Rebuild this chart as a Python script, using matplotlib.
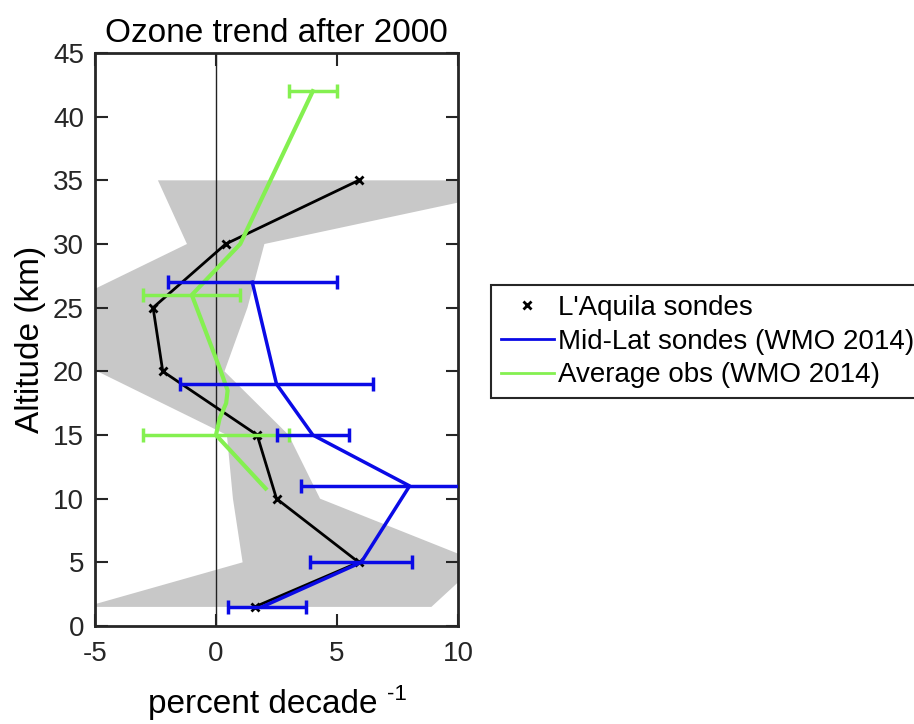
import matplotlib
matplotlib.use("Agg")
import matplotlib.pyplot as plt
from matplotlib.lines import Line2D
import numpy as np

plt.rcParams['font.family'] = ['Liberation Sans', 'DejaVu Sans']
plt.rcParams['axes.unicode_minus'] = False

# L'Aquila sondes: trend and the grey uncertainty band
alt_laq = [1.5, 5, 10, 15, 20, 25, 30, 35]
trend_laq = [1.6, 5.9, 2.5, 1.7, -2.2, -2.6, 0.4, 5.9]
band_lo = [-5.4, 1.1, 0.7, 0.45, -4.9, -6.6, -1.2, -2.4]
band_hi = [8.9, 10.9, 4.3, 3.0, 0.35, 1.3, 2.0, 14.3]

# Mid-Lat sondes (WMO 2014)
alt_ml = [1.5, 5, 11, 15, 19, 27]
trend_ml = [1.9, 6.0, 8.0, 4.0, 2.5, 1.5]
ml_lo = [0.5, 3.9, 3.5, 2.5, -1.5, -2.0]
ml_hi = [3.7, 8.1, 12.5, 5.5, 6.5, 5.0]

# Average obs (WMO 2014)
alt_avg = [10.8, 15, 16.3, 17.5, 18.5, 20, 22, 24, 26, 30, 42]
trend_avg = [2.05, 0.0, 0.15, 0.42, 0.48, 0.2, -0.2, -0.6, -1.0, 1.0, 4.0]
avg_err_alt = [15, 26, 42]
avg_err_val = [0.0, -1.0, 4.0]
avg_err = [3.0, 2.0, 1.0]

green = '#84f050'
blue = '#0a0ae6'

W, H = 914, 724
fig = plt.figure(figsize=(W / 100, H / 100), dpi=100)
ax = fig.add_axes([95 / W, 1 - 626 / H, 363 / W, 573 / H])

# grey band: go up along the low side, back down along the high side
ax.fill(band_lo + band_hi[::-1], alt_laq + alt_laq[::-1],
        color='#c8c8c8', edgecolor='none', zorder=1)
ax.axvline(0, color='#222222', lw=1.0, zorder=2)

ax.plot(trend_laq, alt_laq, color='k', lw=2.0, marker='x',
        ms=6, mew=2, zorder=3)

ax.plot(trend_avg, alt_avg, color=green, lw=3, zorder=4)
ax.errorbar(avg_err_val, avg_err_alt, xerr=avg_err, fmt='none',
            ecolor=green, elinewidth=2.5, capsize=5, capthick=2.5, zorder=4)

ml_err = [np.array(trend_ml) - np.array(ml_lo), np.array(ml_hi) - np.array(trend_ml)]
ax.errorbar(trend_ml, alt_ml, xerr=ml_err, color=blue, lw=2.5,
            elinewidth=2.5, capsize=5, capthick=2.5, zorder=5)

ax.set_xlim(-5, 10)
ax.set_ylim(0, 45)
ax.set_xticks([-5, 0, 5, 10])
ax.set_yticks(range(0, 46, 5))
ax.tick_params(direction='in', length=9, width=1.5, labelsize=20,
               top=True, right=True, colors='#262626', pad=11)
ax.tick_params(axis='y', pad=8)
for s in ax.spines.values():
    s.set_linewidth(2.0)
    s.set_color('#262626')

ax.set_title('Ozone trend after 2000', fontsize=24, pad=8)
ax.set_ylabel('Altitude (km)', fontsize=24)
ax.yaxis.set_label_coords(-0.135, 0.5)

# x label with a MATLAB-like "-1" superscript (hyphen, not minus)
ax.set_xlabel('percent decade', fontsize=24)
ax.xaxis.label.set_verticalalignment('baseline')
ax.xaxis.set_label_coords(0.463, (626 - 713) / 573)
fig.canvas.draw()
bb = ax.xaxis.label.get_window_extent()
fig.text((bb.x1 + 9) / W, (H - 700) / H, '-1',
         fontsize=16, ha='left', va='baseline')

handles = [Line2D([], [], color='k', marker='x', ls='none', ms=6, mew=2),
           Line2D([], [], color=blue, lw=2),
           Line2D([], [], color=green, lw=2)]
labels = ["L'Aquila sondes", 'Mid-Lat sondes (WMO 2014)', 'Average obs (WMO 2014)']
leg = fig.legend(handles, labels, loc='upper left',
                 bbox_to_anchor=(491 / W, 1 - 285 / H), borderaxespad=0,
                 fontsize=20, fancybox=False, framealpha=1, edgecolor='#262626',
                 handlelength=1.9, handletextpad=0.18, labelspacing=0.28,
                 borderpad=0.35)
leg.get_frame().set_linewidth(1.5)

fig.savefig('out.png', dpi=100)
